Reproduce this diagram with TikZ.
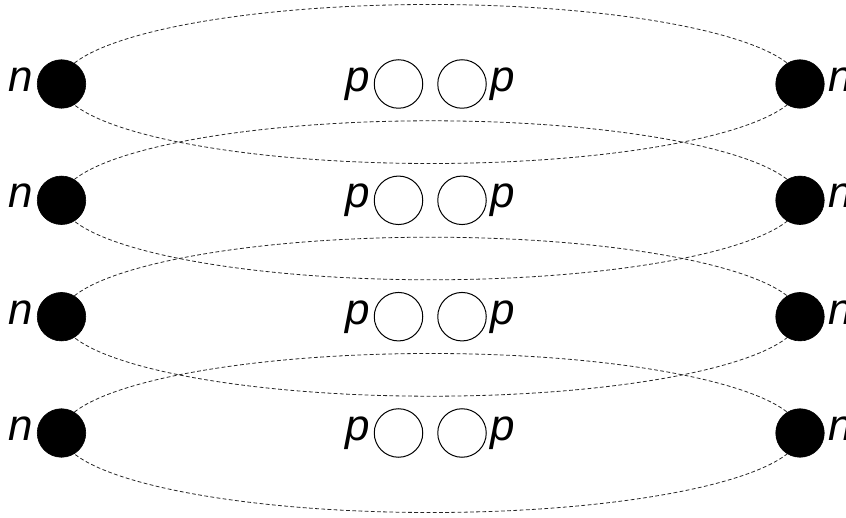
\documentclass[tikz,border=0pt]{standalone}
\usepackage{fontspec}
\setmainfont{Liberation Sans}
\begin{document}
\begin{tikzpicture}[x=1pt,y=-1pt,
  nball/.style={circle,fill=black,draw=black,line width=0.6pt,minimum size=48.5pt,inner sep=0pt},
  pball/.style={circle,draw=black,line width=1pt,minimum size=48.5pt,inner sep=0pt},
  lab/.style={font=\fontsize{44}{44}\selectfont\itshape,inner sep=0pt},
  orbit/.style={draw=black!85,line width=0.8pt,dash pattern=on 3.8pt off 2.4pt}]
\useasboundingbox (0,0) rectangle (846,518);
\foreach \i/\y in {1/84,2/200.3,3/316.7,4/433}{
  \draw[orbit] (430.75,\y) ellipse [x radius=369.25, y radius=79.5];
}
\foreach \i/\y in {1/84,2/200.3,3/316.7,4/433}{
  \node[nball] (L\i) at (61.5,\y) {};
  \node[nball] (R\i) at (800,\y) {};
  \node[pball] (P\i) at (398.5,\y) {};
  \node[pball] (Q\i) at (462,\y) {};
  \node[lab,anchor=mid east] (nl\i) at ([xshift=-4pt,yshift=-5pt]L\i.west) {n};
  \node[lab,anchor=mid west] (nr\i) at ([xshift=4pt,yshift=-5pt]R\i.east) {n};
  \node[lab,anchor=mid east] (pl\i) at ([xshift=-4pt,yshift=-5pt]P\i.west) {p};
  \node[lab,anchor=mid west] (pr\i) at ([xshift=4pt,yshift=-5pt]Q\i.east) {p};
}
\end{tikzpicture}
\end{document}
